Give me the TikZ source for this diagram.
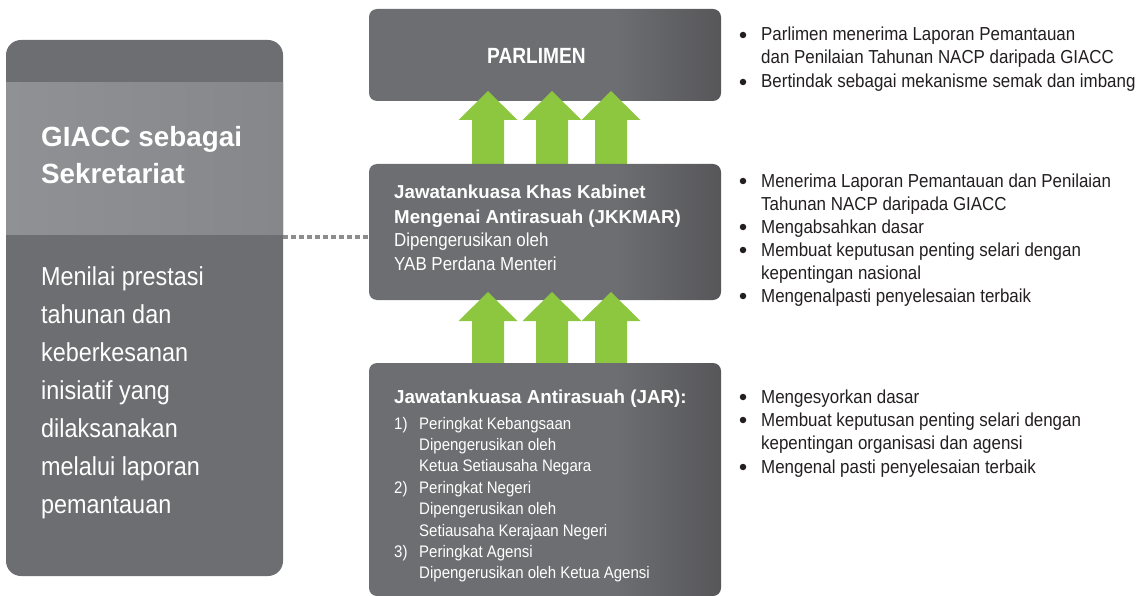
\documentclass[tikz,border=0pt]{standalone}
\usepackage{fontspec}
\setmainfont{Liberation Sans}
\newfontfamily\cnd{Liberation Sans}[FakeStretch=0.9]
\newfontfamily\cndb{Liberation Sans}[FakeStretch=0.87]
\definecolor{boxg}{HTML}{6D6E71}
\definecolor{boxd}{HTML}{444347}
\definecolor{panl}{HTML}{909194}
\definecolor{panr}{HTML}{86878A}
\definecolor{grn}{HTML}{8DC63F}
\definecolor{dotg}{HTML}{8C8D8F}
\definecolor{txt}{HTML}{231F20}
\pgfdeclarehorizontalshading{boxsh}{100bp}{color(0bp)=(boxg); color(60bp)=(boxg); color(88bp)=(boxd); color(97bp)=(boxd); color(100bp)=(boxd!80!boxg)}
\tikzset{
  gbox/.style={shading=boxsh, rounded corners=8pt, inner sep=0pt, minimum width=352pt},
  uparr/.pic={\fill[grn] (-29.5,0) -- (0,-29) -- (29.5,0) -- (16,0) -- (16,50) -- (-16,50) -- (-16,0) -- cycle;},
  wb/.style={anchor=base west, text=white, inner sep=0pt, font=\bfseries\fontsize{18.7}{22}\selectfont},
  wr/.style={anchor=base west, text=white, inner sep=0pt, font=\cnd\fontsize{18.8}{22}\selectfont},
  ws/.style={anchor=base west, text=white, inner sep=0pt, font=\cnd\fontsize{16.7}{20}\selectfont},
  wl/.style={anchor=base west, text=white, inner sep=0pt, font=\cnd\fontsize{26}{30}\selectfont},
  bt/.style={anchor=base west, text=txt, inner sep=0pt, font=\cnd\fontsize{18.8}{22}\selectfont},
  bdot/.style={circle, fill=txt, inner sep=0pt, minimum size=6.5pt},
  dotline/.style={dotg, line width=4.5pt, dash pattern=on 5pt off 3pt}
}
\begin{document}
\begin{tikzpicture}[x=1pt,y=-1pt]
\useasboundingbox (0,0) rectangle (1142,596);
% left panel
\node[fill=boxg, rounded corners=15pt, minimum width=277pt, minimum height=536pt, inner sep=0pt] (panel) at (144.5,308) {};
\node[left color=panl, right color=panr, minimum width=277pt, minimum height=151pt, inner sep=0pt] (band) at (144.5,158.5) {};
\node[anchor=base west, text=white, inner sep=0pt, font=\bfseries\fontsize{27.8}{32}\selectfont] (g1) at (41,147) {GIACC sebagai};
\node[anchor=base west, text=white, inner sep=0pt, font=\bfseries\fontsize{27.8}{32}\selectfont] (g2) at (41,183) {Sekretariat};
\node[wl] (l1) at (41,285) {Menilai prestasi};
\node[wl] (l2) at (41,323) {tahunan dan};
\node[wl] (l3) at (41,361) {keberkesanan};
\node[wl] (l4) at (41,399) {inisiatif yang};
\node[wl] (l5) at (41,437) {dilaksanakan};
\node[wl] (l6) at (41,475) {melalui laporan};
\node[wl] (l7) at (41,513) {pemantauan};
% top box
\node[gbox, minimum height=92pt] (parl) at (545,55) {};
\node[anchor=base west, text=white, inner sep=0pt, font=\cndb\bfseries\fontsize{22}{26}\selectfont] (tparl) at (487,64) {PARLIMEN};
% arrows 1
\pic at (488,120) {uparr};
\pic at (552,120) {uparr};
\pic at (611,120) {uparr};
% middle box
\node[gbox, minimum height=136pt] (mid) at (545,232) {};
\node[wb] (m1) at (394,198) {Jawatankuasa Khas Kabinet};
\node[wb] (m2) at (394,223) {Mengenai Antirasuah (JKKMAR)};
\node[wr] (m3) at (394,246) {Dipengerusikan oleh};
\node[wr] (m4) at (394,270) {YAB Perdana Menteri};
% arrows 2
\pic at (488,321) {uparr};
\pic at (552,321) {uparr};
\pic at (611,321) {uparr};
% bottom box
\node[gbox, minimum height=233pt] (jar) at (545,479.5) {};
\node[wb, font=\bfseries\fontsize{18.8}{22}\selectfont] (j0) at (394,403) {Jawatankuasa Antirasuah (JAR):};
\node[ws] (n1) at (394,429) {1)};
\node[ws] (j1) at (419,429) {Peringkat Kebangsaan};
\node[ws] (j2) at (419,450.4) {Dipengerusikan oleh};
\node[ws] (j3) at (419,471.8) {Ketua Setiausaha Negara};
\node[ws] (n2) at (394,493.2) {2)};
\node[ws] (j4) at (419,493.2) {Peringkat Negeri};
\node[ws] (j5) at (419,514.6) {Dipengerusikan oleh};
\node[ws] (j6) at (419,536) {Setiausaha Kerajaan Negeri};
\node[ws] (n3) at (394,557.4) {3)};
\node[ws] (j7) at (419,557.4) {Peringkat Agensi};
\node[ws] (j8) at (419,578.8) {Dipengerusikan oleh Ketua Agensi};
% dotted connector
\coordinate (dl) at (283,237);
\draw[dotline] (dl) -- (dl -| mid.west);
% bullets group 1
\node[bdot] (d1) at (743,35) {};
\node[bt] (b1) at (761,41) {Parlimen menerima Laporan Pemantauan};
\node[bt] (b2) at (761,64) {dan Penilaian Tahunan NACP daripada GIACC};
\node[bdot] (d2) at (743,82) {};
\node[bt] (b3) at (761,88) {Bertindak sebagai mekanisme semak dan imbang};
% bullets group 2
\node[bdot] (d3) at (743,181) {};
\node[bt] (c1) at (761,187) {Menerima Laporan Pemantauan dan Penilaian};
\node[bt] (c2) at (761,210) {Tahunan NACP daripada GIACC};
\node[bdot] (d4) at (743,227) {};
\node[bt] (c3) at (761,233) {Mengabsahkan dasar};
\node[bdot] (d5) at (743,250) {};
\node[bt] (c4) at (761,256) {Membuat keputusan penting selari dengan};
\node[bt] (c5) at (761,279) {kepentingan nasional};
\node[bdot] (d6) at (743,296) {};
\node[bt] (c6) at (761,302) {Mengenalpasti penyelesaian terbaik};
% bullets group 3
\node[bdot] (d7) at (743,397) {};
\node[bt] (e1) at (761,403) {Mengesyorkan dasar};
\node[bdot] (d8) at (743,420) {};
\node[bt] (e2) at (761,426) {Membuat keputusan penting selari dengan};
\node[bt] (e3) at (761,449) {kepentingan organisasi dan agensi};
\node[bdot] (d9) at (743,467) {};
\node[bt] (e4) at (761,473) {Mengenal pasti penyelesaian terbaik};
\end{tikzpicture}
\end{document}
